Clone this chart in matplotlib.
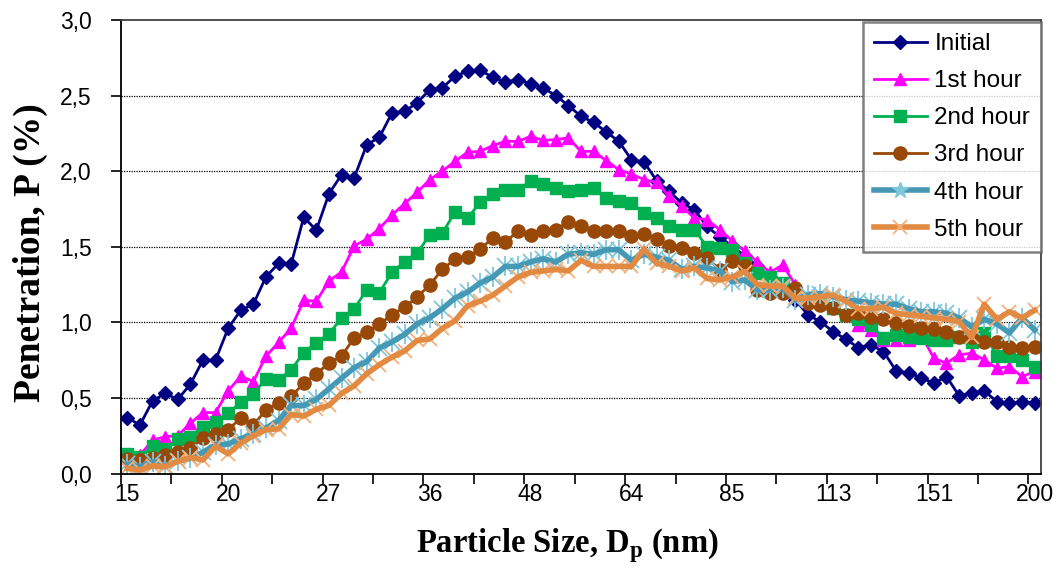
import numpy as np
import matplotlib
matplotlib.use("Agg")
import matplotlib.pyplot as plt
from matplotlib.ticker import FixedLocator
from matplotlib.lines import Line2D

plt.rcParams['font.family'] = ['Liberation Sans', 'DejaVu Sans']
plt.rcParams['mathtext.fontset'] = 'custom'
plt.rcParams['mathtext.rm'] = 'Liberation Serif:bold'

# category labels shown every 8th channel (64 channels/decade SMPS)
tick_labels = ["15", "20", "27", "36", "48", "64", "85", "113", "151", "200"]

initial = [0.37, 0.32, 0.48, 0.53, 0.49, 0.59, 0.75, 0.75, 0.96, 1.08,
           1.12, 1.30, 1.39, 1.385, 1.695, 1.61, 1.85, 1.977, 1.955, 2.175,
           2.224, 2.385, 2.396, 2.452, 2.54, 2.551, 2.628, 2.661, 2.668, 2.621,
           2.59, 2.606, 2.577, 2.551, 2.50, 2.434, 2.363, 2.323, 2.26, 2.197,
           2.076, 2.061, 1.937, 1.866, 1.789, 1.745, 1.634, 1.566, 1.502, 1.44,
           1.37, 1.30, 1.22, 1.149, 1.05, 1.005, 0.939, 0.889, 0.833, 0.851,
           0.807, 0.679, 0.664, 0.634, 0.597, 0.641, 0.515, 0.531, 0.546, 0.476,
           0.465, 0.471, 0.469]
hour1 = [0.12, 0.12, 0.22, 0.244, 0.25, 0.332, 0.403, 0.403, 0.546, 0.645,
         0.608, 0.776, 0.867, 0.961, 1.146, 1.14, 1.273, 1.333, 1.505, 1.55,
         1.62, 1.71, 1.785, 1.86, 1.944, 2.00, 2.065, 2.125, 2.131, 2.169,
         2.197, 2.197, 2.23, 2.204, 2.209, 2.22, 2.131, 2.131, 2.07, 2.01,
         1.981, 1.944, 1.926, 1.833, 1.767, 1.69, 1.679, 1.613, 1.54, 1.47,
         1.40, 1.33, 1.38, 1.25, 1.17, 1.15, 1.10, 1.05, 0.983, 0.95,
         0.884, 0.884, 0.884, 0.917, 0.763, 0.73, 0.785, 0.796, 0.752, 0.697,
         0.707, 0.641, 0.674]
hour2 = [0.13, 0.11, 0.18, 0.16, 0.23, 0.244, 0.31, 0.34, 0.40, 0.47,
         0.526, 0.626, 0.62, 0.685, 0.80, 0.866, 0.924, 1.028, 1.089, 1.215,
         1.197, 1.33, 1.40, 1.458, 1.578, 1.59, 1.73, 1.69, 1.793, 1.85,
         1.877, 1.877, 1.935, 1.913, 1.889, 1.866, 1.877, 1.886, 1.822, 1.805,
         1.789, 1.723, 1.69, 1.639, 1.613, 1.613, 1.50, 1.49, 1.48, 1.39,
         1.326, 1.30, 1.26, 1.20, 1.16, 1.15, 1.096, 1.05, 1.02, 0.983,
         0.895, 0.917, 0.90, 0.895, 0.884, 0.884, 0.906, 0.873, 0.928, 0.778,
         0.774, 0.752, 0.707]
hour3 = [0.094, 0.089, 0.10, 0.12, 0.144, 0.167, 0.233, 0.264, 0.29, 0.366,
         0.321, 0.42, 0.469, 0.51, 0.597, 0.658, 0.732, 0.776, 0.898, 0.934,
         0.987, 1.05, 1.10, 1.168, 1.248, 1.35, 1.418, 1.432, 1.485, 1.558,
         1.529, 1.606, 1.579, 1.606, 1.613, 1.665, 1.634, 1.606, 1.606, 1.601,
         1.57, 1.587, 1.55, 1.507, 1.49, 1.46, 1.425, 1.348, 1.403, 1.37,
         1.215, 1.193, 1.193, 1.226, 1.127, 1.116, 1.094, 1.05, 1.061, 1.038,
         1.021, 0.995, 0.977, 0.961, 0.955, 0.939, 0.906, 0.906, 0.873, 0.873,
         0.84, 0.829, 0.84]
hour4 = [0.06, 0.045, 0.078, 0.05, 0.08, 0.10, 0.14, 0.19, 0.195, 0.23,
         0.26, 0.30, 0.35, 0.45, 0.45, 0.49, 0.56, 0.63, 0.70, 0.74,
         0.83, 0.87, 0.92, 0.99, 1.03, 1.09, 1.16, 1.20, 1.26, 1.30,
         1.37, 1.37, 1.40, 1.42, 1.40, 1.45, 1.46, 1.45, 1.48, 1.48,
         1.41, 1.45, 1.43, 1.41, 1.35, 1.37, 1.36, 1.34, 1.27, 1.28,
         1.215, 1.215, 1.226, 1.15, 1.18, 1.19, 1.17, 1.15, 1.14, 1.13,
         1.12, 1.12, 1.09, 1.07, 1.07, 1.06, 1.03, 0.97, 1.02, 0.99,
         0.93, 1.03, 0.95]
hour5 = [0.034, 0.023, 0.05, 0.045, 0.08, 0.105, 0.09, 0.18, 0.13, 0.20,
         0.25, 0.29, 0.295, 0.39, 0.38, 0.425, 0.45, 0.53, 0.58, 0.66,
         0.72, 0.77, 0.81, 0.88, 0.89, 0.96, 1.01, 1.11, 1.14, 1.18,
         1.24, 1.30, 1.33, 1.34, 1.35, 1.34, 1.41, 1.37, 1.37, 1.37,
         1.37, 1.485, 1.39, 1.37, 1.34, 1.36, 1.29, 1.28, 1.30, 1.336,
         1.25, 1.24, 1.24, 1.16, 1.16, 1.17, 1.18, 1.14, 1.09, 1.09,
         1.10, 1.06, 1.05, 1.04, 1.03, 1.02, 1.005, 0.90, 1.12, 1.02,
         1.07, 1.03, 1.08]

x = np.arange(len(initial))

fig = plt.figure(figsize=(10.62, 5.77), dpi=100)
ax = fig.add_axes([121 / 1062, 1 - 473.5 / 577, 920 / 1062, 453.5 / 577])

ax.plot(x, initial, color='#000080', lw=2, marker='D', ms=7,
        mfc='#000080', mec='#000080')
ax.plot(x, hour1, color='#FF00FF', lw=2, marker='^', ms=9,
        mfc='#FF00FF', mec='#FF00FF')
ax.plot(x, hour2, color='#00B050', lw=2, marker='s', ms=8,
        mfc='#00B050', mec='#00B050')
ax.plot(x, hour3, color='#984807', lw=2, marker='o', ms=9.5,
        mfc='#984807', mec='#984807')

# 4th hour: thick line with asterisk markers (x + |)
ax.plot(x, hour4, color='#80C7DC', lw=0, marker='x', ms=11, mew=1.3)
ax.plot(x, hour4, color='#80C7DC', lw=0, marker='|', ms=14, mew=1.3)
ax.plot(x, hour4, color='#4599B4', lw=4)
ax.plot(x, hour5, color='#F6B07A', lw=0, marker='x', ms=10, mew=1.3)
ax.plot(x, hour5, color='#E28A42', lw=4)

ax.set_xlim(-0.5, len(x) - 0.5)
ax.set_ylim(0, 3.0)

ax.set_xticks(np.arange(0, len(x), 8))
ax.set_xticklabels(tick_labels)
ax.xaxis.set_minor_locator(FixedLocator(np.arange(-0.5, len(x), 4)))
ax.tick_params(axis='x', which='major', length=0, pad=7, labelsize=16.5)
ax.tick_params(axis='x', which='minor', length=7, width=1.2, direction='out')

yt = np.arange(0, 3.01, 0.5)
ax.set_yticks(yt)
ax.set_yticklabels([f"{v:.1f}".replace('.', ',') for v in yt])
ax.tick_params(axis='y', length=7, width=1.2, direction='out', pad=14, labelsize=16.5)

for v in yt[1:-1]:
    ax.axhline(v, color='black', lw=0.9, ls=(0, (1, 1)), zorder=0)

for s in ax.spines.values():
    s.set_linewidth(1.3)
    s.set_color('black')
ax.spines['top'].set_color('#404040')
ax.spines['right'].set_color('#404040')

fig.text(30 / 1062, 1 - 253 / 577, 'Penetration, P (%)', family='Liberation Serif',
         fontweight='bold', fontsize=27, rotation=90, ha='center', va='center')
fig.text(567 / 1062, 1 - 546 / 577, r'Particle Size, D$_\mathrm{p}$ (nm)',
         family='Liberation Serif', fontweight='bold', fontsize=23.5,
         ha='center', va='center')

h = [
    Line2D([], [], color='#000080', lw=2, marker='D', ms=7),
    Line2D([], [], color='#FF00FF', lw=2, marker='^', ms=9),
    Line2D([], [], color='#00B050', lw=2, marker='s', ms=8),
    Line2D([], [], color='#984807', lw=2, marker='o', ms=9.5),
    Line2D([], [], color='#4599B4', lw=4, marker='*', ms=12, mfc='#80C7DC', mec='#80C7DC'),
    Line2D([], [], color='#E28A42', lw=4, marker='x', ms=10, mec='#F6B07A', mew=1.3),
]
leg = ax.legend(h, ['Initial', '1st hour', '2nd hour', '3rd hour', '4th hour', '5th hour'],
                loc='upper right', bbox_to_anchor=(1.0, 0.995), fontsize=17.5,
                frameon=True, fancybox=False, borderpad=0.45, labelspacing=0.62,
                handlelength=2.2, handletextpad=0.3, borderaxespad=0)
leg.get_frame().set_edgecolor('#606060')
leg.get_frame().set_linewidth(1.8)

fig.savefig('out.png', dpi=100)
